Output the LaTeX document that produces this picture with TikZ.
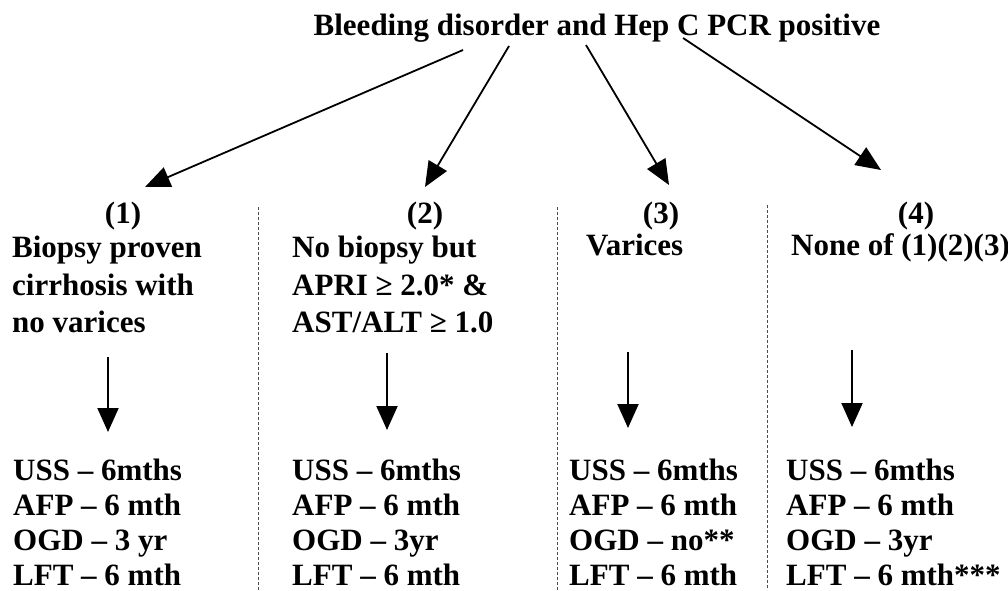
\documentclass[tikz,border=0pt]{standalone}
\usepackage{fontspec}
\setmainfont{Liberation Serif}
\usetikzlibrary{arrows.meta}
\tikzset{
  every node/.style={font=\bfseries\fontsize{31}{36}\selectfont, inner sep=0pt},
  line/.style={anchor=base west},
  num/.style={anchor=base},
  link/.style={line width=1.8pt, -{Triangle[length=25pt,width=21pt]}},
  down/.style={line width=2pt, -{Triangle[length=24pt,width=21pt]}},
  sep/.style={densely dashed, line width=0.6pt, black!70},
}
\begin{document}
\begin{tikzpicture}[x=1pt,y=-1pt]
  \useasboundingbox (0,0) rectangle (1008,590);
  % title
  \node[num] (title) at (597,35) {Bleeding disorder and Hep C PCR positive};
  % column numbers
  \node[num] (n1) at (123,223) {(1)};
  \node[num] (n2) at (425,223) {(2)};
  \node[num] (n3) at (661,223) {(3)};
  \node[num] (n4) at (916,223) {(4)};
  % column headings
  \foreach \t [count=\j] in {Biopsy proven, cirrhosis with, no varices}
    \node[line] (c1\j) at (12,220+37.5*\j) {\t};
  \foreach \t [count=\j] in {No biopsy but, APRI ≥ 2.0* \&, AST/ALT ≥ 1.0}
    \node[line] (c2\j) at (292,220+37.5*\j) {\t};
  \node[line] (c31) at (586,255) {Varices};
  \node[line] (c41) at (791,255) {None of (1)(2)(3)};
  % follow-up lists
  \foreach \t [count=\j] in {USS -- 6mths, AFP -- 6 mth, OGD -- 3 yr, LFT -- 6 mth}
    \node[line] (l1\j) at (13,445+35*\j) {\t};
  \foreach \t [count=\j] in {USS -- 6mths, AFP -- 6 mth, OGD -- 3yr, LFT -- 6 mth}
    \node[line] (l2\j) at (292,445+35*\j) {\t};
  \foreach \t [count=\j] in {USS -- 6mths, AFP -- 6 mth, OGD -- no**, LFT -- 6 mth}
    \node[line] (l3\j) at (569,445+35*\j) {\t};
  \foreach \t [count=\j] in {USS -- 6mths, AFP -- 6 mth, OGD -- 3yr, LFT -- 6 mth***}
    \node[line] (l4\j) at (786,445+35*\j) {\t};
  % separators
  \foreach \x/\y in {258/207, 557/207, 767/205}
    \draw[sep] (\x,\y) -- (\x,590);
  % arrows from title
  \foreach \sx/\sy/\tx/\ty [count=\i] in {463/50/145/187, 509/46/425/187, 586/45/669/185, 683/38/881/170} {
    \coordinate (s\i) at (\sx,\sy);
    \coordinate (t\i) at (\tx,\ty);
    \draw[link] (s\i) -- (t\i);
  }
  % arrows to lists
  \foreach \x/\ya/\yb [count=\i] in {108/357/432, 387/353/430, 628/352/428, 852/350/427} {
    \coordinate (a\i) at (\x,\ya);
    \coordinate (b\i) at (\x,\yb);
    \draw[down] (a\i) -- (b\i);
  }
\end{tikzpicture}
\end{document}
